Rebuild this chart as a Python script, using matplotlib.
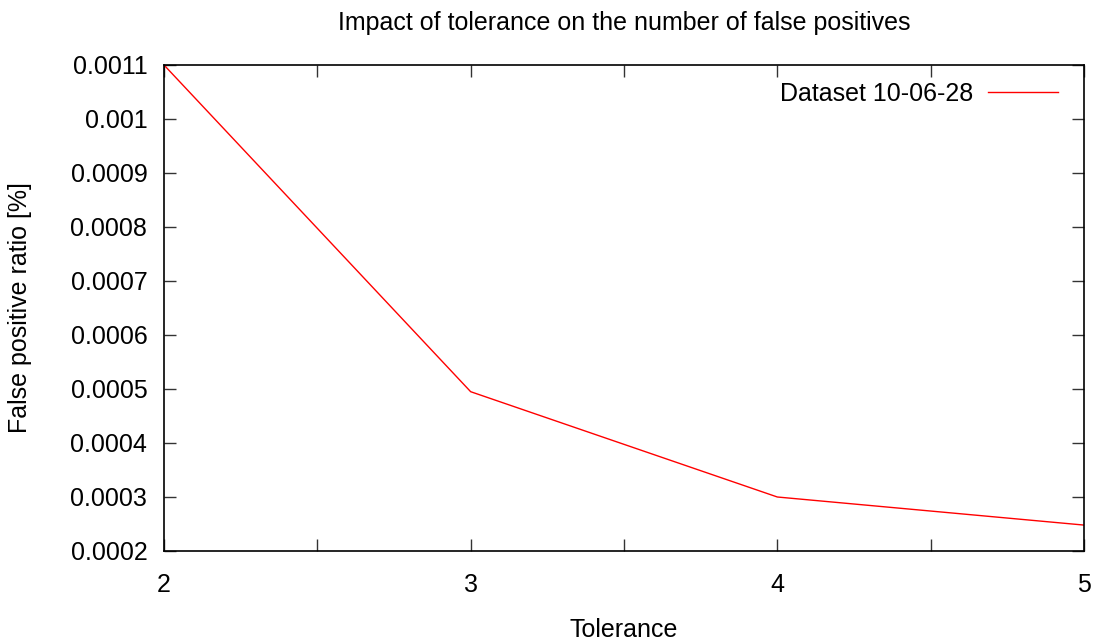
import matplotlib
matplotlib.use("Agg")
import matplotlib.pyplot as plt
from matplotlib.ticker import MultipleLocator

tolerance = [2, 3, 4, 5]
fp_ratio = [0.0011, 0.000495, 0.0003, 0.000248]
y_ticks = [0.0002, 0.0003, 0.0004, 0.0005, 0.0006, 0.0007, 0.0008, 0.0009, 0.001, 0.0011]
y_labels = ["0.0002", "0.0003", "0.0004", "0.0005", "0.0006", "0.0007",
            "0.0008", "0.0009", "0.001", "0.0011"]

plt.rcParams["font.family"] = ["Liberation Sans", "DejaVu Sans"]
fs = 18

fig = plt.figure(figsize=(11.01, 6.44), dpi=100)
ax = fig.add_axes([164 / 1101, 1 - 551 / 644, 920 / 1101, 486 / 644])

ax.plot(tolerance, fp_ratio, color="#ff0000", lw=1, label="Dataset 10-06-28")
ax.set_xlim(2, 5)
ax.set_ylim(0.0002, 0.0011)
ax.set_xticks(tolerance)
ax.xaxis.set_minor_locator(MultipleLocator(0.5))
ax.set_yticks(y_ticks)
ax.set_yticklabels(y_labels)

ax.tick_params(which="both", direction="in", top=True, right=True,
               length=8.6, width=1, labelsize=fs, color="#333333")
ax.tick_params(axis="y", pad=12)
ax.tick_params(axis="x", pad=16)
for s in ax.spines.values():
    s.set_linewidth(1.2)
    s.set_color("black")

ax.set_title("Impact of tolerance on the number of false positives", fontsize=fs, pad=25)
ax.set_xlabel("Tolerance", fontsize=fs, labelpad=15)
ax.set_ylabel("False positive ratio [%]", fontsize=fs, labelpad=28)

ax.legend(loc="upper right", frameon=False, fontsize=fs, markerfirst=False,
          handlelength=2.8, borderaxespad=0.55, handletextpad=0.6,
          bbox_to_anchor=(1 - 2 / 920, 1 + 7 / 486))

fig.savefig("out.png", dpi=100)
